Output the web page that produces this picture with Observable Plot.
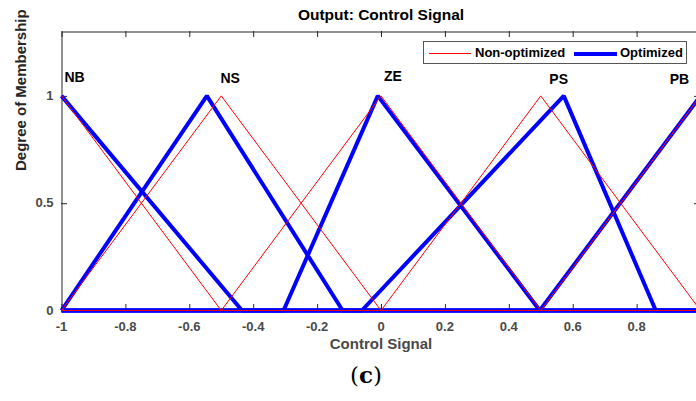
<!DOCTYPE html>
<html><head><meta charset="utf-8">
<script src="https://cdn.jsdelivr.net/npm/d3@7"></script>
<script src="https://cdn.jsdelivr.net/npm/@observablehq/plot@0.6"></script>
<style>
html,body{margin:0;padding:0;background:#fff;overflow:hidden;}
#wrap{position:relative;width:696px;height:401px;overflow:hidden;font-family:"Liberation Sans",Arial,sans-serif;}
#chart{position:absolute;left:0;top:0;width:704px;}
#chart svg{max-width:none !important;}
#legend{position:absolute;left:423px;top:41px;width:264px;height:23px;border:1px solid #555;background:#fff;box-sizing:border-box;font-weight:bold;font-size:13px;color:#000;}
#legend .ln{position:absolute;top:10px;}
#legend .tx{position:absolute;top:3px;line-height:15px;white-space:nowrap;}
#caption{position:absolute;left:340px;top:361px;width:52px;text-align:center;font-family:"DejaVu Serif",serif;font-size:23px;color:#000;}
</style>
</head><body>
<div id="wrap">
  <div id="chart"></div>
  <div id="legend">
    <div class="ln" style="left:5px;width:42px;height:1px;background:#ff0000;top:11px"></div>
    <div class="tx" style="left:51px">Non-optimized</div>
    <div class="ln" style="left:150px;width:43px;height:4px;background:#0000ff;top:10px"></div>
    <div class="tx" style="left:196px">Optimized</div>
  </div>
  <div id="caption">(<b>c</b>)</div>
</div>
<script>
// Membership function names
const mfNames = ["NB", "NS", "ZE", "PS", "PB"];
// Non-optimized triangular MF parameters [a, b, c]
const nonOptA = [-1.5, -1, -0.5, 0, 0.5];
const nonOptB = [-1, -0.5, 0, 0.5, 1];
const nonOptC = [-0.5, 0, 0.5, 1, 1.5];
// Optimized triangular MF parameters [a, b, c]
const optA = [-1.565, -1, -0.305, -0.06, 0.497];
const optB = [-1, -0.545, -0.01, 0.572, 1];
const optC = [-0.435, -0.12, 0.497, 0.86, 1.5];
// MF label positions
const labelX = [-0.959, -0.472, 0.0375, 0.556, 0.934];
const labelY = [1.084, 1.079, 1.088, 1.074, 1.074];
// Ticks
const xTicks = [-1, -0.8, -0.6, -0.4, -0.2, 0, 0.2, 0.4, 0.6, 0.8, 1];
const yTicks = [0, 0.5, 1];

function tri(name, a, b, c) {
  const xs = Array.from(new Set([-1, a, b, c, 1].filter(x => x >= -1 && x <= 1))).sort((p, q) => p - q);
  return xs.map(x => ({mf: name, x, y: (x <= a || x >= c) ? 0 : (x <= b ? (x - a) / (b - a) : (c - x) / (c - b))}));
}
const redData = mfNames.flatMap((n, i) => tri(n, nonOptA[i], nonOptB[i], nonOptC[i]));
const blueData = mfNames.flatMap((n, i) => tri(n, optA[i], optB[i], optC[i]));
const labels = mfNames.map((n, i) => ({name: n, x: labelX[i], y: labelY[i]}));

const W = 704, H = 360, ML = 61, MR = 4, MT = 31, MB = 50;
const fw = W - ML - MR, fh = H - MT - MB, tk = 6;
const gray = "#4a4a4a", axisCol = "#262626";
const plot = Plot.plot({
  width: W, height: H,
  marginLeft: ML, marginRight: MR, marginTop: MT, marginBottom: MB,
  style: {fontFamily: "'Liberation Sans', Arial, sans-serif", background: "#fff", overflow: "visible", maxWidth: "none"},
  x: {domain: [-1, 1]},
  y: {domain: [0, 1.3]},
  marks: [
    Plot.axisX({anchor: "bottom", ticks: xTicks, tickSize: 0, tickPadding: 11, tickFormat: d => d === 1 ? "" : String(d),
      fontSize: 13, fontWeight: "bold", fill: gray, label: null}),
    Plot.axisY({anchor: "left", ticks: yTicks, tickSize: 0, tickPadding: 8, tickFormat: d => String(d),
      fontSize: 13, fontWeight: "bold", fill: gray, label: null}),
    Plot.tickX(xTicks, {x: d => d, insetTop: fh - tk, stroke: axisCol, dx: 0.5}),
    Plot.tickX(xTicks, {x: d => d, insetBottom: fh - tk, stroke: axisCol, dx: 0.5}),
    Plot.tickY(yTicks, {y: d => d, insetRight: fw - tk, stroke: axisCol, dy: 0.5}),
    Plot.tickY(yTicks, {y: d => d, insetLeft: fw - tk, stroke: axisCol, dy: 0.5}),
    Plot.frame({stroke: axisCol, strokeWidth: 1, dx: 0.5, dy: 0.5}),
    Plot.line(blueData, {x: "x", y: "y", z: "mf", stroke: "#0000ff", strokeWidth: 4, strokeLinejoin: "miter", strokeLinecap: "butt"}),
    Plot.line(redData, {x: "x", y: "y", z: "mf", stroke: "#ff0000", strokeWidth: 1}),
    Plot.text(labels, {x: "x", y: "y", text: "name", fontSize: 14, fontWeight: "bold", fill: "#000"}),
    Plot.text(["Output: Control Signal"], {frameAnchor: "top", lineAnchor: "middle", dy: -16, fontSize: 15.5, fontWeight: "bold", fill: "#000"}),
    Plot.text(["Control Signal"], {frameAnchor: "bottom", lineAnchor: "middle", dy: 34, fontSize: 15, fontWeight: "bold", fill: gray}),
    Plot.text(["Degree of Membership"], {frameAnchor: "left", dx: -40, rotate: -90, fontSize: 15, fontWeight: "bold", fill: axisCol})
  ]
});
document.getElementById("chart").appendChild(plot);
</script>
</body></html>
